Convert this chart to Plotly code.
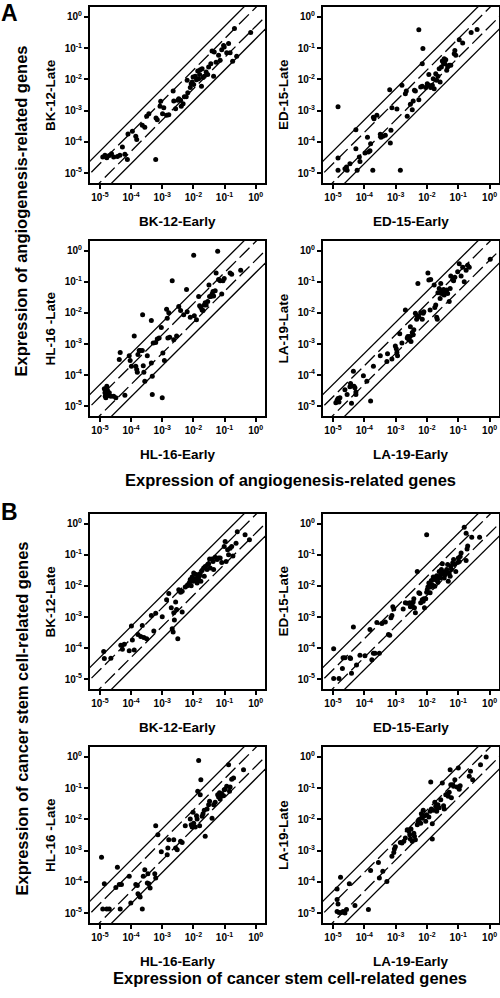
import numpy as np
import plotly.graph_objects as go

# ---------------- data (log10 of expression) ----------------
a_bk_early = [-4.91,-4.84,-4.78,-4.70,-4.63,-4.56,-4.44,-4.36,-4.28,-4.20,-4.12,-4.10,-3.96,-3.85,-3.82,-3.64,-3.56,-3.50,-3.43,-3.21,-3.20,-3.16,-3.07,-3.05,-2.99,-2.95,-2.86,-2.79,-2.65,-2.63,-2.57,-2.50,-2.47,-2.41,-2.39,-2.33,-2.29,-2.23,-2.20,-2.18,-2.10,-2.07,-2.04,-2.01,-1.99,-1.94,-1.90,-1.86,-1.83,-1.80,-1.78,-1.74,-1.72,-1.69,-1.65,-1.59,-1.54,-1.51,-1.44,-1.40,-1.35,-1.33,-1.27,-1.19,-1.14,-1.09,-1.03,-1.01,-0.93,-0.87,-0.82,-0.74,-0.68,-0.61,-0.16]
a_bk_late = [-4.49,-4.43,-4.51,-4.44,-4.38,-4.49,-4.47,-4.43,-4.17,-4.40,-4.57,-3.75,-3.66,-3.82,-3.93,-3.47,-3.53,-3.18,-3.10,-4.57,-3.24,-3.29,-2.86,-2.70,-3.10,-2.91,-3.15,-3.13,-2.37,-2.69,-2.94,-2.67,-2.62,-2.67,-2.86,-2.78,-2.56,-2.56,-2.03,-2.43,-2.26,-2.14,-2.08,-1.92,-2.16,-1.90,-2.01,-1.73,-1.98,-1.84,-1.69,-2.22,-1.66,-1.94,-1.90,-1.76,-1.84,-1.60,-1.50,-1.09,-1.90,-1.12,-1.45,-1.23,-1.39,-1.05,-0.91,-0.96,-1.15,-0.85,-1.15,-1.42,-0.37,-1.26,-0.50]

a_ed_early = [-4.84,-4.84,-4.84,-4.62,-4.57,-4.55,-4.46,-4.27,-4.27,-4.23,-4.16,-4.14,-3.98,-3.90,-3.87,-3.82,-3.80,-3.73,-3.71,-3.69,-3.60,-3.49,-3.47,-3.41,-3.33,-3.19,-3.17,-3.15,-3.12,-2.96,-2.85,-2.80,-2.69,-2.66,-2.63,-2.53,-2.47,-2.44,-2.40,-2.37,-2.26,-2.26,-2.20,-2.15,-2.13,-2.15,-2.04,-1.99,-1.94,-1.94,-1.88,-1.83,-1.80,-1.77,-1.72,-1.69,-1.65,-1.61,-1.58,-1.54,-1.51,-1.47,-1.45,-1.43,-1.40,-1.37,-1.34,-1.29,-1.24,-1.13,-1.11,-1.08,-0.97,-0.86,-0.59,-0.40]
a_ed_late = [-2.88,-4.52,-4.91,-4.86,-4.81,-4.91,-4.70,-3.61,-4.22,-4.91,-4.49,-4.63,-4.36,-3.85,-4.33,-4.29,-4.06,-4.91,-3.21,-3.26,-3.15,-3.76,-3.85,-3.82,-3.79,-2.33,-4.04,-3.63,-2.91,-2.95,-4.91,-2.19,-2.46,-2.37,-3.18,-2.80,-2.97,-2.69,-2.35,-2.37,-2.65,-0.41,-2.24,-2.22,-1.01,-1.50,-2.26,-2.14,-1.84,-2.19,-2.26,-2.19,-1.98,-2.30,-1.82,-2.03,-1.90,-1.66,-2.08,-1.60,-1.41,-1.50,-1.34,-1.50,-1.37,-1.71,-1.60,-1.55,-1.55,-1.18,-1.07,-1.23,-0.73,-0.83,-0.50,-0.40]

a_hl_early = [-4.86,-4.84,-4.83,-4.81,-4.78,-4.76,-4.73,-4.70,-4.65,-4.56,-4.49,-4.38,-4.35,-4.20,-4.06,-4.03,-3.99,-3.90,-3.85,-3.82,-3.80,-3.78,-3.74,-3.71,-3.64,-3.63,-3.61,-3.59,-3.56,-3.48,-3.35,-3.35,-3.32,-3.32,-3.29,-3.21,-3.16,-3.10,-3.03,-3.00,-2.98,-2.93,-2.86,-2.84,-2.82,-2.79,-2.76,-2.68,-2.63,-2.54,-2.47,-2.41,-2.31,-2.22,-2.20,-2.10,-1.99,-1.97,-1.90,-1.83,-1.80,-1.76,-1.72,-1.69,-1.65,-1.62,-1.59,-1.54,-1.50,-1.48,-1.44,-1.40,-1.37,-1.35,-1.30,-1.27,-1.22,-1.19,-1.14,-1.09,-1.05,-1.01,-0.82,-0.77,-0.48]
a_hl_late = [-4.44,-4.57,-4.68,-4.73,-4.36,-4.49,-4.66,-4.57,-4.68,-4.68,-4.73,-3.50,-3.27,-4.65,-3.38,-3.53,-3.72,-2.74,-3.72,-3.82,-3.91,-3.34,-3.21,-3.21,-3.21,-2.06,-3.70,-3.91,-4.20,-3.38,-2.24,-3.61,-4.04,-4.63,-2.97,-2.95,-2.84,-2.81,-2.47,-4.73,-3.29,-3.53,-1.88,-2.17,-2.81,-1.99,-2.78,-0.96,-2.86,-2.74,-1.79,-1.92,-2.06,-1.24,-1.96,-2.14,-0.14,-2.09,-2.22,-1.47,-1.77,-1.82,-1.90,-1.92,-1.74,-1.67,-1.74,-1.63,-1.10,-1.47,-1.47,-1.39,-1.31,-1.45,-1.28,-0.71,-0.01,-0.92,-0.96,-1.39,-0.96,-0.89,-0.71,-0.75,-0.62]

a_la_early = [-4.91,-4.87,-4.84,-4.81,-4.78,-4.62,-4.55,-4.46,-4.44,-4.41,-4.35,-4.33,-4.30,-4.27,-4.27,-4.03,-3.92,-3.80,-3.71,-3.49,-3.28,-3.26,-3.12,-3.01,-2.98,-2.96,-2.94,-2.87,-2.80,-2.69,-2.63,-2.61,-2.58,-2.55,-2.53,-2.51,-2.47,-2.44,-2.42,-2.37,-2.33,-2.31,-2.29,-2.26,-2.20,-2.15,-2.12,-2.10,-1.97,-1.94,-1.90,-1.88,-1.77,-1.75,-1.72,-1.69,-1.67,-1.65,-1.61,-1.58,-1.56,-1.54,-1.51,-1.47,-1.45,-1.43,-1.40,-1.37,-1.34,-1.29,-1.26,-1.24,-1.18,-1.15,-1.11,-1.02,-0.97,-0.91,-0.86,-0.81,-0.75,-0.70,-0.65,0.02]
a_la_late = [-4.89,-4.81,-4.76,-4.87,-4.73,-4.47,-4.63,-4.38,-4.27,-4.91,-3.88,-4.36,-4.41,-4.55,-4.63,-4.02,-4.20,-4.84,-3.72,-3.38,-3.56,-3.31,-3.48,-3.06,-3.15,-3.27,-3.38,-2.67,-2.97,-1.90,-2.81,-2.76,-2.86,-2.76,-2.44,-2.92,-2.63,-2.70,-2.54,-2.01,-2.20,-2.09,-1.05,-2.12,-1.99,-2.20,-2.01,-1.96,-0.71,-0.94,-1.90,-0.92,-1.10,-1.82,-1.74,-2.14,-2.20,-1.35,-1.21,-1.53,-1.05,-1.37,-1.31,-1.24,-1.42,-1.28,-1.35,-1.26,-1.37,-1.63,-1.21,-0.81,-0.92,-0.96,-0.85,-0.67,-0.41,-0.81,-0.53,-0.99,-0.62,-0.46,-0.53,-0.27]

b_bk_early = [-4.88,-4.86,-4.65,-4.33,-4.28,-4.22,-4.06,-3.99,-3.96,-3.90,-3.78,-3.69,-3.64,-3.59,-3.50,-3.35,-3.27,-3.21,-3.00,-2.86,-2.79,-2.71,-2.68,-2.65,-2.63,-2.61,-2.57,-2.54,-2.50,-2.47,-2.41,-2.36,-2.36,-2.26,-2.20,-2.15,-2.12,-2.10,-2.07,-2.04,-2.01,-1.99,-1.97,-1.94,-1.90,-1.88,-1.86,-1.83,-1.80,-1.78,-1.76,-1.72,-1.67,-1.65,-1.62,-1.56,-1.54,-1.51,-1.48,-1.46,-1.40,-1.37,-1.35,-1.30,-1.24,-1.19,-1.14,-1.09,-1.01,-0.98,-0.95,-0.90,-0.87,-0.82,-0.77,-0.73,-0.63,-0.59,-0.34,-0.20]
b_bk_late = [-4.11,-4.34,-4.33,-3.91,-4.04,-3.88,-4.09,-3.29,-3.74,-4.06,-3.56,-3.63,-3.27,-3.66,-3.70,-2.95,-3.45,-2.88,-2.99,-2.44,-2.24,-2.70,-3.38,-3.48,-2.86,-3.10,-2.52,-2.76,-3.70,-2.12,-2.20,-2.17,-2.84,-2.03,-1.99,-1.96,-1.88,-1.79,-1.99,-1.71,-1.85,-1.58,-1.77,-1.79,-1.63,-1.90,-1.71,-1.79,-1.67,-1.60,-1.85,-1.50,-1.42,-1.69,-1.37,-1.47,-1.31,-1.28,-1.13,-1.42,-1.13,-1.21,-1.47,-1.07,-1.15,-1.10,-1.10,-1.24,-0.73,-0.57,-1.21,-0.83,-0.99,-0.78,-0.73,-1.03,-0.62,-0.25,-0.35,-0.51]

b_ed_early = [-4.98,-4.98,-4.81,-4.70,-4.68,-4.62,-4.46,-4.44,-4.41,-4.35,-4.25,-4.14,-3.98,-3.82,-3.76,-3.71,-3.66,-3.60,-3.52,-3.44,-3.33,-3.23,-3.19,-3.15,-3.12,-3.09,-3.06,-2.76,-2.69,-2.63,-2.55,-2.53,-2.47,-2.44,-2.42,-2.40,-2.37,-2.31,-2.26,-2.23,-2.20,-2.15,-2.12,-2.10,-2.08,-2.04,-2.01,-1.99,-1.97,-1.94,-1.90,-1.88,-1.86,-1.83,-1.80,-1.77,-1.75,-1.72,-1.69,-1.67,-1.65,-1.61,-1.58,-1.56,-1.54,-1.51,-1.47,-1.45,-1.43,-1.40,-1.37,-1.34,-1.32,-1.29,-1.26,-1.24,-1.22,-1.18,-1.15,-1.11,-1.08,-1.02,-1.00,-0.97,-0.94,-0.91,-0.75,-0.72,-0.70,-2.01,-0.81,-0.75,-0.57,-0.32]
b_ed_late = [-4.02,-4.98,-4.98,-4.66,-4.31,-4.31,-4.31,-4.34,-4.81,-3.32,-4.55,-4.23,-4.25,-3.40,-4.38,-4.17,-4.17,-3.18,-4.17,-3.21,-3.16,-3.56,-3.59,-3.02,-2.95,-2.67,-2.74,-2.74,-2.54,-2.56,-2.54,-2.67,-2.63,-2.52,-2.41,-2.70,-2.86,-1.53,-2.22,-2.24,-2.54,-2.44,-2.49,-2.41,-2.70,-2.41,-2.20,-2.12,-2.03,-1.90,-2.22,-2.03,-1.82,-1.96,-1.71,-1.79,-2.01,-1.77,-1.67,-1.82,-1.88,-1.53,-1.74,-1.63,-1.47,-1.28,-1.56,-1.74,-1.63,-1.53,-1.47,-1.31,-1.85,-1.58,-1.69,-1.37,-1.47,-1.26,-1.15,-1.31,-1.53,-1.24,-1.10,-1.21,-1.05,-0.94,-1.18,-0.81,-0.71,-0.35,-0.11,-0.30,-0.43,-0.43]

b_hl_early = [-4.95,-4.91,-4.86,-4.78,-4.70,-4.49,-4.44,-4.38,-4.35,-4.31,-4.06,-4.01,-3.85,-3.80,-3.78,-3.74,-3.71,-3.64,-3.61,-3.56,-3.48,-3.46,-3.43,-3.39,-3.24,-3.21,-3.21,-3.14,-3.03,-2.84,-2.82,-2.79,-2.63,-2.57,-2.52,-2.41,-2.36,-2.26,-2.10,-2.07,-2.04,-2.01,-1.99,-1.94,-1.90,-1.88,-1.86,-1.83,-1.80,-1.78,-1.76,-1.72,-1.69,-1.65,-1.62,-1.56,-1.51,-1.48,-1.40,-1.35,-1.30,-1.22,-1.19,-1.16,-1.14,-1.12,-1.09,-1.03,-1.01,-0.98,-0.93,-0.87,-0.84,-0.82,-0.77,-0.71,-0.39]
b_hl_late = [-3.21,-4.87,-4.06,-4.87,-4.87,-4.18,-3.53,-4.09,-4.87,-4.09,-3.82,-4.68,-4.09,-4.12,-4.38,-4.44,-4.49,-4.87,-3.82,-3.61,-4.04,-3.74,-4.06,-4.20,-3.74,-3.88,-2.20,-2.49,-3.04,-3.13,-2.92,-2.65,-2.65,-2.92,-2.97,-2.70,-2.74,-2.20,-1.99,-2.17,-2.24,-1.77,-2.12,-2.24,-1.88,-1.99,-1.10,-0.11,-2.20,-1.21,-0.73,-1.90,-1.82,-1.71,-2.54,-1.67,-1.53,-1.42,-1.96,-1.53,-1.45,-1.21,-1.28,-1.15,-1.35,-1.26,-1.18,-1.24,-1.05,-1.03,-0.94,-0.25,-1.10,-0.96,-0.71,-0.67,-0.41]

b_la_early = [-4.87,-4.87,-4.84,-4.87,-4.81,-4.76,-4.73,-4.68,-4.62,-4.57,-4.48,-4.30,-3.87,-3.80,-3.55,-3.52,-3.41,-3.28,-3.12,-3.06,-3.04,-3.01,-2.85,-2.80,-2.74,-2.69,-2.63,-2.58,-2.55,-2.53,-2.51,-2.47,-2.42,-2.40,-2.37,-2.31,-2.29,-2.26,-2.20,-2.18,-2.15,-2.12,-2.08,-2.04,-2.01,-1.94,-1.90,-1.88,-1.86,-1.83,-1.83,-1.80,-1.75,-1.72,-1.69,-1.67,-1.65,-1.61,-1.56,-1.51,-1.47,-1.45,-1.40,-1.34,-1.32,-1.29,-1.26,-1.24,-1.22,-1.18,-1.15,-1.11,-1.04,-1.00,-0.97,-0.94,-0.65,-0.61,-0.54,-0.29,-0.11]
b_la_late = [-4.23,-4.57,-4.71,-4.95,-4.98,-3.85,-4.98,-4.95,-5.00,-4.89,-4.06,-4.76,-4.89,-3.64,-3.38,-3.88,-3.66,-3.99,-3.18,-3.06,-2.95,-2.88,-2.74,-2.76,-2.70,-2.60,-2.33,-2.38,-2.49,-2.63,-2.31,-2.70,-2.44,-2.54,-2.65,-2.17,-2.06,-2.01,-2.12,-1.82,-1.96,-1.71,-1.88,-2.06,-1.85,-1.92,-1.74,-0.80,-1.67,-2.14,-2.63,-1.71,-1.45,-1.58,-1.74,-1.63,-1.53,-1.63,-1.37,-0.83,-1.56,-1.67,-1.21,-1.18,-1.26,-1.13,-0.41,-0.89,-1.31,-0.89,-0.94,-0.73,-0.96,-0.35,-1.03,-0.92,-0.62,-0.46,-0.73,-0.25,0.00]

panels = [
    (a_bk_early, a_bk_late, "BK-12-Early", "BK-12-Late"),
    (a_ed_early, a_ed_late, "ED-15-Early", "ED-15-Late"),
    (a_hl_early, a_hl_late, "HL-16-Early", "HL-16 -Late"),
    (a_la_early, a_la_late, "LA-19-Early", "LA-19-Late"),
    (b_bk_early, b_bk_late, "BK-12-Early", "BK-12-Late"),
    (b_ed_early, b_ed_late, "ED-15-Early", "ED-15-Late"),
    (b_hl_early, b_hl_late, "HL-16-Early", "HL-16 -Late"),
    (b_la_early, b_la_late, "LA-19-Early", "LA-19-Late"),
]

fold_dashed = [2.0, 0.5]
fold_solid = [5.0, 0.2]

tick_vals = [1e-5, 1e-4, 1e-3, 1e-2, 1e-1, 1e0]
tick_text = ["<b>10<sup>-5</sup></b>", "<b>10<sup>-4</sup></b>", "<b>10<sup>-3</sup></b>",
             "<b>10<sup>-2</sup></b>", "<b>10<sup>-1</sup></b>", "<b>10<sup>0</sup></b>"]

W, H = 500, 998
FONT = "Liberation Sans, Arial, sans-serif"

# layout geometry in pixels
col_x = [(90, 265), (323, 499)]
row_y = [(7, 183), (241, 416), (514, 689), (747, 923)]

def px_x(p):
    return p / W

def px_y(p):
    return 1 - p / H

fig = go.Figure()
layout = dict(
    width=W, height=H, margin=dict(l=0, r=0, t=0, b=0),
    plot_bgcolor="white", paper_bgcolor="white", showlegend=False,
    font=dict(family=FONT, color="black"),
)
annotations = []

line_x = np.array([1e-7, 1e2])

for i, (ex, la, xl, yl) in enumerate(panels):
    r, c = i // 2, i % 2
    n = i + 1
    xa = "x" if n == 1 else f"x{n}"
    ya = "y" if n == 1 else f"y{n}"
    x0, x1 = col_x[c]
    y0, y1 = row_y[r]
    for f in fold_solid:
        fig.add_trace(go.Scatter(x=line_x, y=line_x * f, mode="lines",
                                 line=dict(color="black", width=1.3),
                                 xaxis=xa, yaxis=ya, hoverinfo="skip"))
    for f in fold_dashed:
        fig.add_trace(go.Scatter(x=line_x, y=line_x * f, mode="lines",
                                 line=dict(color="black", width=1.3, dash="14px,5px"),
                                 xaxis=xa, yaxis=ya, hoverinfo="skip"))
    fig.add_trace(go.Scatter(x=10 ** np.array(ex), y=10 ** np.array(la), mode="markers",
                             marker=dict(color="black", size=5, line=dict(width=0)),
                             xaxis=xa, yaxis=ya, cliponaxis=False))
    axis_common = dict(type="log", showgrid=False, zeroline=False, showline=True,
                       linecolor="black", linewidth=2, mirror=True, ticks="outside",
                       ticklen=4, tickwidth=1.5, tickcolor="black",
                       tickvals=tick_vals, ticktext=tick_text,
                       tickfont=dict(family=FONT, size=10, color="black"))
    layout["xaxis" if n == 1 else f"xaxis{n}"] = dict(
        axis_common, domain=[px_x(x0), px_x(x1)], range=[-5.32, 0.30],
        anchor=ya)
    layout["yaxis" if n == 1 else f"yaxis{n}"] = dict(
        axis_common, domain=[px_y(y1), px_y(y0)], range=[-5.32, 0.32],
        anchor=xa)
    annotations.append(dict(text=f"<b>{xl}</b>", x=px_x((x0 + x1) / 2), y=px_y(y1 + 38),
                            xref="paper", yref="paper", showarrow=False,
                            font=dict(family=FONT, size=13.5, color="black"),
                            xanchor="center", yanchor="middle"))
    annotations.append(dict(text=f"<b>{yl}</b>", x=px_x(x0 - 40), y=px_y((y0 + y1) / 2),
                            xref="paper", yref="paper", showarrow=False, textangle=-90,
                            font=dict(family=FONT, size=13.5, color="black"),
                            xanchor="center", yanchor="middle"))

big_titles = [
    ("Expression of angiogenesis-related genes", 480, (7 + 416) / 2, "A", 13),
    ("Expression of cancer stem cell-related genes", 978, (514 + 923) / 2, "B", 512),
]
for txt, ypix, ymid, letter, lety in big_titles:
    annotations.append(dict(text=f"<b>{txt}</b>", x=px_x(290), y=px_y(ypix),
                            xref="paper", yref="paper", showarrow=False,
                            font=dict(family=FONT, size=16.5, color="black"),
                            xanchor="center", yanchor="middle"))
    annotations.append(dict(text=f"<b>{txt}</b>", x=px_x(21), y=px_y(ymid),
                            xref="paper", yref="paper", showarrow=False, textangle=-90,
                            font=dict(family=FONT, size=16.5, color="black"),
                            xanchor="center", yanchor="middle"))
    annotations.append(dict(text=f"<b>{letter}</b>", x=px_x(9), y=px_y(lety),
                            xref="paper", yref="paper", showarrow=False,
                            font=dict(family=FONT, size=23, color="black"),
                            xanchor="center", yanchor="middle"))

layout["annotations"] = annotations
fig.update_layout(**layout)
fig.write_html("out.html", config={"displayModeBar": False},
               post_script="document.body.style.margin='0';document.body.style.overflow='hidden';")
